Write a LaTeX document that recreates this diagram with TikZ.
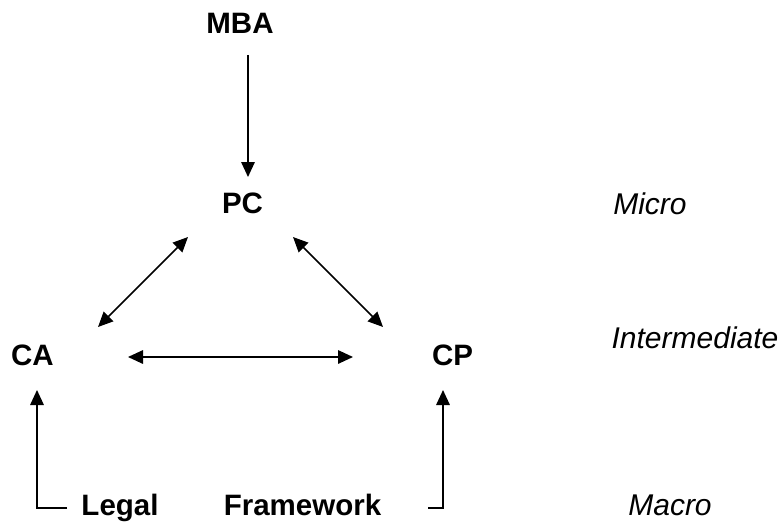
\documentclass[tikz,border=0pt]{standalone}
\usepackage{fontspec}
\setmainfont{Liberation Sans}
\usetikzlibrary{arrows.meta}
\begin{document}
\begin{tikzpicture}[x=1pt,y=1pt,
  lbl/.style={anchor=base,inner sep=0pt,font=\fontsize{29.5}{35}\selectfont\bfseries},
  lvl/.style={anchor=base,inner sep=0pt,font=\fontsize{30}{36}\selectfont\itshape},
  tip/.tip={Triangle[length=15pt,width=13.5pt]},
  con/.style={line width=1.6pt,-tip},
  bicon/.style={line width=1.6pt,tip-tip}]
\useasboundingbox (0,0) rectangle (783,523);
\node[lbl] (MBA) at (240,489) {MBA};
\node[lbl] (PC) at (242.5,310) {PC};
\node[lbl] (CA) at (32.5,158) {CA};
\node[lbl] (CP) at (452.5,158) {CP};
\node[lbl] (Legal) at (120,8) {Legal};
\node[lbl] (Framework) at (302.5,8) {Framework};
\node[lvl] (Micro) at (650,309) {Micro};
\node[lvl] (Intermediate) at (695,175) {Intermediate};
\node[lvl] (Macro) at (670,8) {Macro};
\draw[con] ([shift={(8,-21)}]MBA.base) -- ([shift={(5.5,36)}]PC.base);
\draw[bicon] ([shift={(-54.5,-24)}]PC.base) -- ([shift={(65.5,38)}]CA.base);
\draw[bicon] ([shift={(50.5,-24)}]PC.base) -- ([shift={(-69.5,38)}]CP.base);
\draw[bicon] ([shift={(95.5,8)}]CA.base) -- ([shift={(-99.5,8)}]CP.base);
\draw[con] ([shift={(-53,7)}]Legal.base) -| ([shift={(4.5,-25)}]CA.base);
\draw[con] ([shift={(125.5,7)}]Framework.base) -| ([shift={(-9.5,-25)}]CP.base);
\end{tikzpicture}
\end{document}
